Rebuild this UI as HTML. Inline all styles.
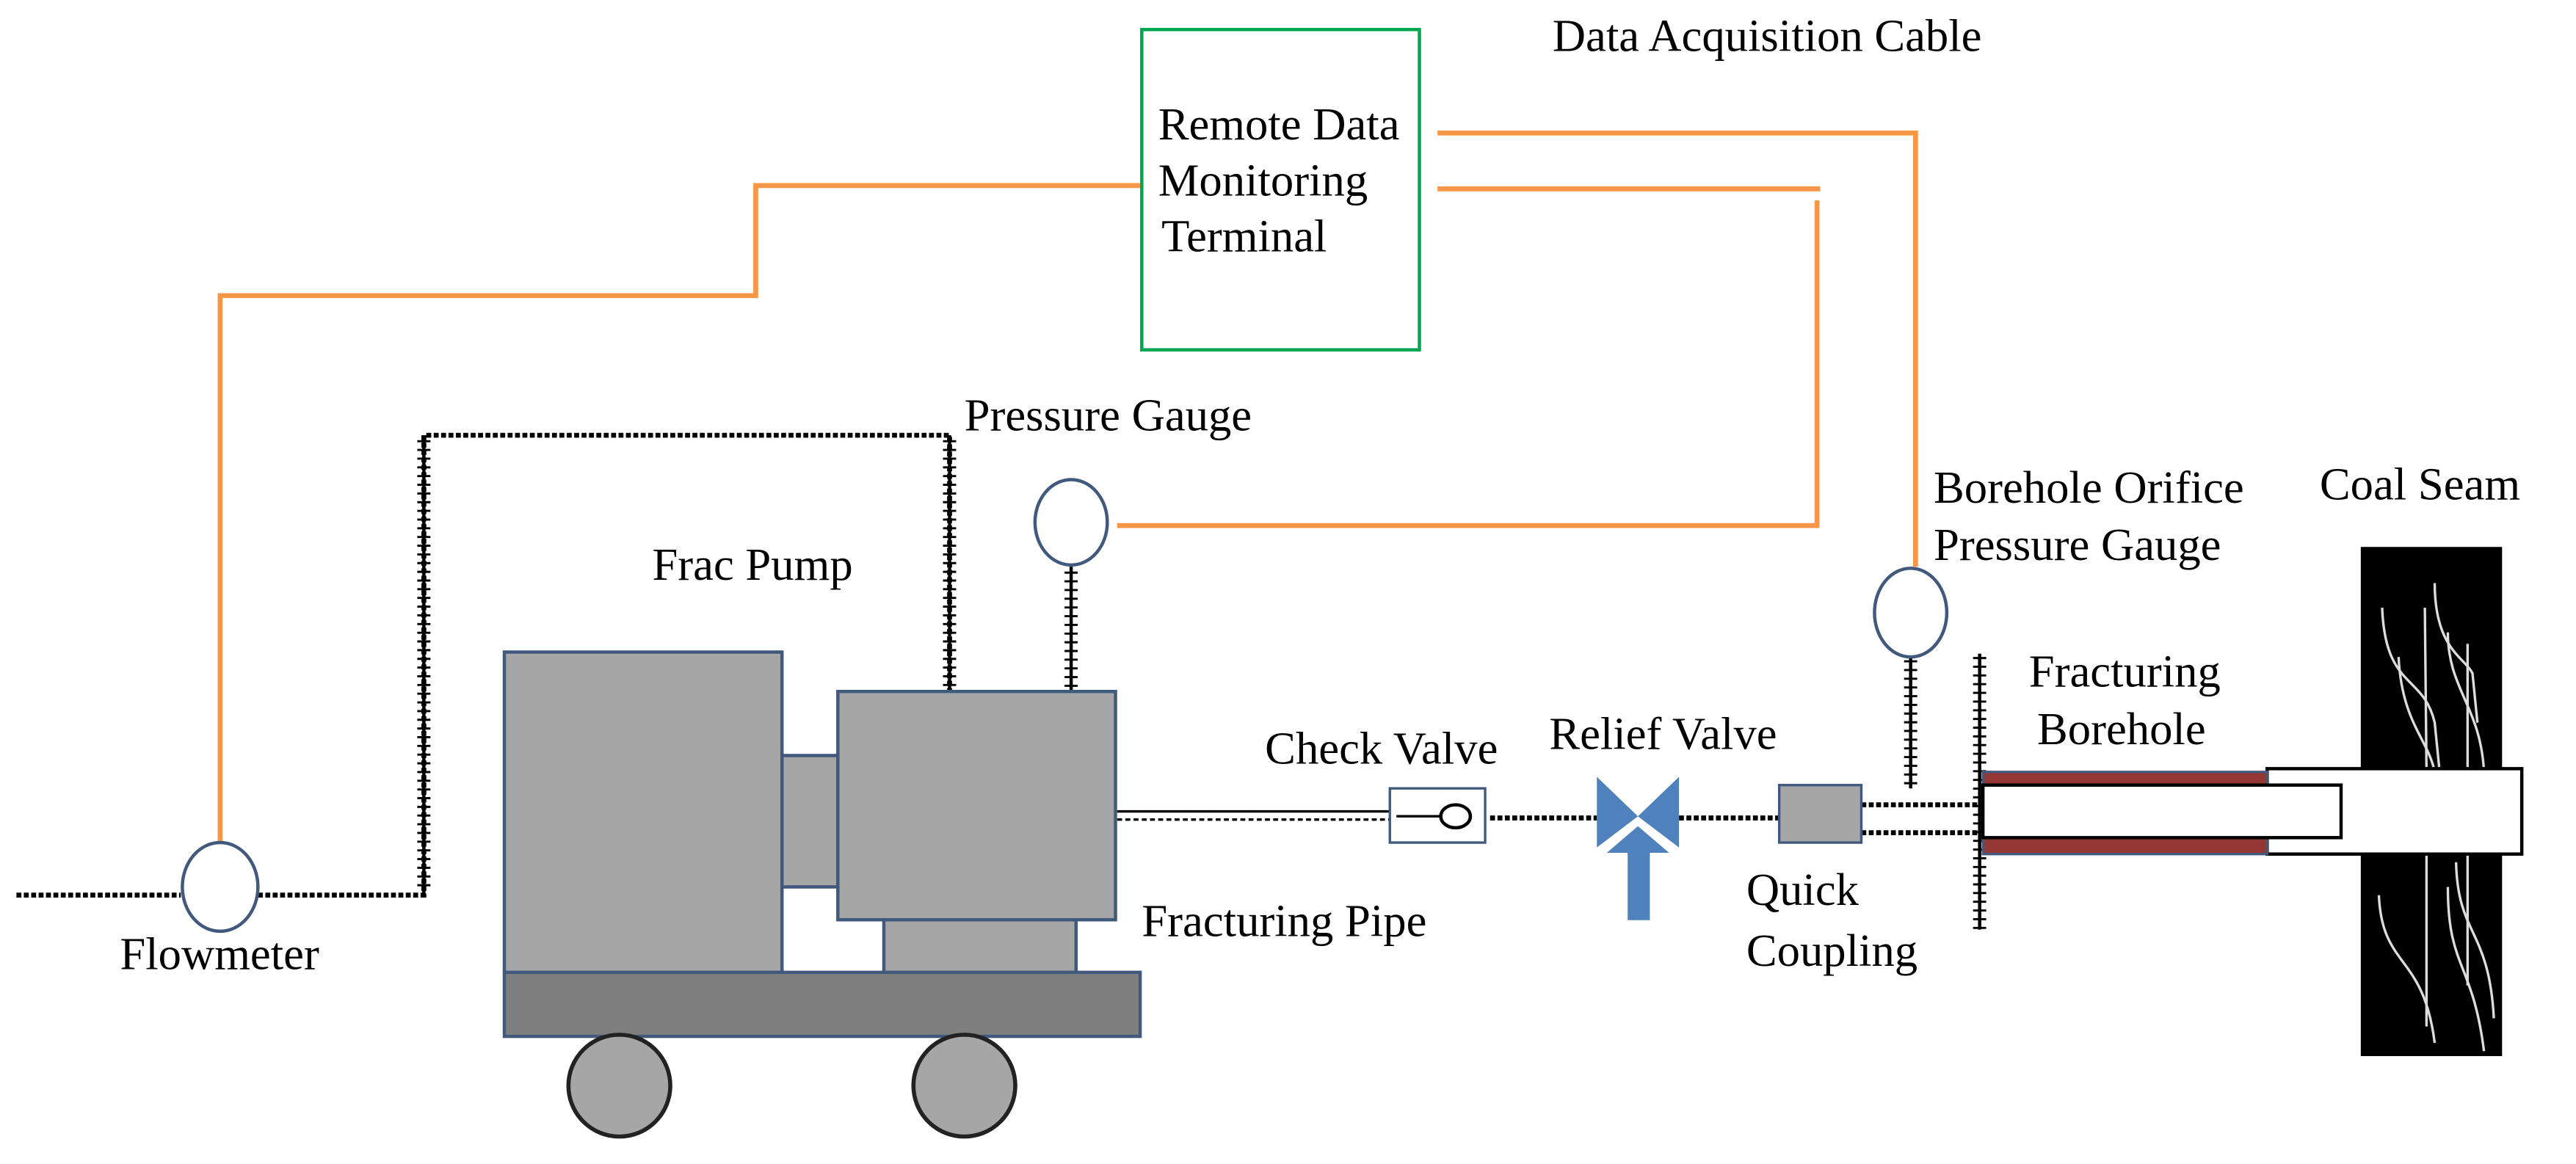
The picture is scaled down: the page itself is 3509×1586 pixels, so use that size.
<!DOCTYPE html>
<html><head><meta charset="utf-8"><style>
html,body{margin:0;padding:0;background:#fff;}
svg{display:block;}
.t{font-family:"Liberation Serif","DejaVu Serif",serif;font-size:28px;fill:#000;}
</style></head><body>
<svg width="3509" height="1586" viewBox="0 0 1568 708.7" xmlns="http://www.w3.org/2000/svg">
<g fill="none" stroke="#F79646" stroke-width="3">
<polyline points="134,515 134,180 460,180 460,113 695,113"/>
<polyline points="875,81 1166,81 1166,345"/>
<polyline points="875,115 1108,115"/>
<polyline points="1106,122 1106,320 680,320"/>
</g>
<rect x="695" y="18" width="169" height="195" fill="none" stroke="#00A550" stroke-width="2"/>
<g class="t">
<text class="t" x="705" y="85">Remote Data</text>
<text class="t" x="705" y="119">Monitoring</text>
<text class="t" x="707" y="153">Terminal</text>
<text class="t" x="945" y="31">Data Acquisition Cable</text>
<text class="t" x="73" y="590">Flowmeter</text>
<text class="t" x="587" y="262">Pressure Gauge</text>
<text class="t" x="397" y="353">Frac Pump</text>
<text class="t" x="695" y="570">Fracturing Pipe</text>
<text class="t" x="770" y="465">Check Valve</text>
<text class="t" x="943" y="456">Relief Valve</text>
<text class="t" x="1063" y="551">Quick</text>
<text class="t" x="1063" y="588">Coupling</text>
<text class="t" x="1177" y="306">Borehole Orifice</text>
<text class="t" x="1177" y="341">Pressure Gauge</text>
<text class="t" x="1412" y="304">Coal Seam</text>
<text class="t" x="1235" y="418">Fracturing</text>
<text class="t" x="1240" y="453">Borehole</text>
</g>
<g fill="none" stroke="#000" stroke-width="3" stroke-dasharray="3,1.5">
<line x1="10" y1="545" x2="110" y2="545"/>
<polyline points="157,545 258,545 258,265 578,265 578,420"/>
<line x1="907" y1="498" x2="972" y2="498"/>
<line x1="1022" y1="498" x2="1083" y2="498"/>
<line x1="1133" y1="490" x2="1205" y2="490"/>
<line x1="1133" y1="507" x2="1205" y2="507"/>
</g>
<g stroke="#000" stroke-width="2">
<line x1="258" y1="265" x2="258" y2="545"/>
<line x1="578" y1="265" x2="578" y2="420"/>
<line x1="652" y1="345" x2="652" y2="422"/>
<line x1="1163" y1="400" x2="1163" y2="480"/>
<line x1="1205" y1="398" x2="1205" y2="566"/>
</g>
<g fill="none" stroke="#000" stroke-width="8" stroke-dasharray="1.3,4">
<line x1="258" y1="268" x2="258" y2="543"/>
<line x1="578" y1="268" x2="578" y2="420"/>
<line x1="652" y1="348" x2="652" y2="422"/>
<line x1="1163" y1="402" x2="1163" y2="480"/>
<line x1="1205" y1="400" x2="1205" y2="566"/>
</g>
<line x1="680" y1="494" x2="846" y2="494" stroke="#000" stroke-width="1.5"/>
<line x1="680" y1="499" x2="846" y2="499" stroke="#000" stroke-width="1.5" stroke-dasharray="3,2"/>
<g fill="#fff" stroke="#41597c" stroke-width="2">
<ellipse cx="134" cy="540" rx="23" ry="27"/>
<ellipse cx="652" cy="318" rx="22" ry="26"/>
<ellipse cx="1163" cy="373" rx="22" ry="27"/>
</g>
<g fill="#a6a6a6" stroke="#41597c" stroke-width="2">
<rect x="307" y="397" width="169" height="195"/>
<rect x="476" y="460" width="34" height="80"/>
<rect x="538" y="560" width="117" height="35"/>
<rect x="510" y="421" width="169" height="139"/>
<rect x="307" y="592" width="387" height="39" fill="#7f7f7f"/>
</g>
<g fill="#a6a6a6" stroke="#222" stroke-width="2.5">
<circle cx="377" cy="661" r="31"/>
<circle cx="587" cy="661" r="31"/>
</g>
<rect x="846" y="480" width="58" height="33" fill="#fff" stroke="#41597c" stroke-width="1.5"/>
<line x1="850" y1="497" x2="877" y2="497" stroke="#000" stroke-width="1.5"/>
<ellipse cx="886" cy="497" rx="9" ry="7" fill="#fff" stroke="#000" stroke-width="2"/>
<g fill="#4f81bd">
<polygon points="972,473 997,497 972,516"/>
<polygon points="1022,473 997,497 1022,516"/>
<polygon points="997,502 1018,520 1005,520 1005,561 990,561 990,520 976,520" stroke="#fff" stroke-width="1.5"/>
</g>
<rect x="1083" y="478" width="50" height="35" fill="#a6a6a6" stroke="#41597c" stroke-width="1.5"/>
<rect x="1437" y="333" width="86" height="310" fill="#000"/>
<g fill="none" stroke="#ddd" stroke-width="1.5">
<path d="M1450,370 C1452,420 1475,410 1482,440 L1485,470"/>
<path d="M1476,370 L1477,470"/>
<path d="M1482,355 C1482,395 1500,400 1505,410 L1508,440"/>
<path d="M1460,400 C1462,440 1478,450 1482,470"/>
<path d="M1490,385 C1490,420 1510,430 1512,470"/>
<path d="M1502,392 L1502,470"/>
<path d="M1448,545 C1450,590 1475,580 1482,635"/>
<path d="M1477,520 L1477,625"/>
<path d="M1490,540 C1490,590 1505,585 1512,640"/>
<path d="M1495,525 C1496,570 1515,565 1518,620"/>
<path d="M1502,520 L1502,600"/>
</g>
<rect x="1380" y="468" width="155" height="52" fill="#fff" stroke="#000" stroke-width="2"/>
<rect x="1207" y="470" width="173" height="50" fill="#953735" stroke="#41597c" stroke-width="1.5"/>
<rect x="1207" y="478" width="218" height="32" fill="#fff" stroke="#000" stroke-width="2"/>
</svg>
</body></html>
